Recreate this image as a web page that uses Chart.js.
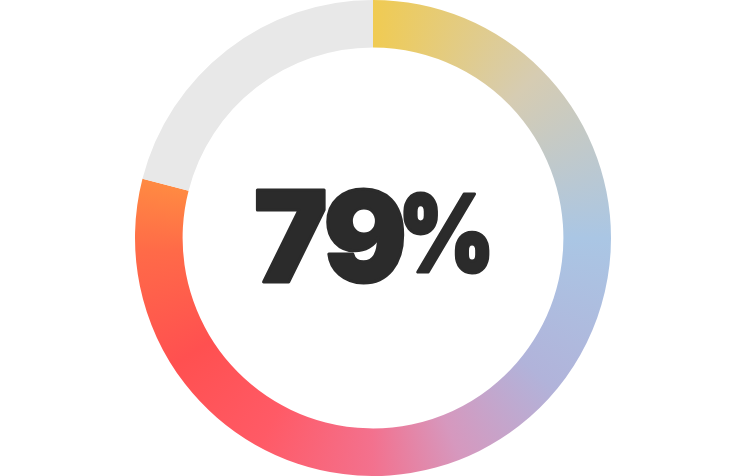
<!DOCTYPE html>
<html lang="en">
  <head>
    <meta charset="UTF-8" />
    <title>Progress Doughnut</title>
    <script src="https://cdn.jsdelivr.net/npm/chart.js"></script>
    <style>
      html, body { margin: 0; padding: 0; background: #ffffff; }
      #wrap { width: 750px; height: 476px; position: relative; }
    </style>
  </head>
  <body>
    <div id="wrap"><canvas id="progressChart"></canvas></div>
    <script>
      // data
      const labels = ["Complete", "Remaining"];
      const values = [79, 21];
      const centerNumber = "79";
      const centerUnit = "%";

      // gradient stops along the filled arc (fraction of full circle, colour)
      const gradientStops = [
        [0.0, "#f0cb52"],
        [0.125, "#d6ccb2"],
        [0.25, "#aac6e4"],
        [0.36, "#b1b3da"],
        [0.44, "#d698be"],
        [0.5, "#f3718e"],
        [0.58, "#ff5a66"],
        [0.66, "#ff5050"],
        [0.74, "#ff6a48"],
        [0.79, "#ff8a42"],
        [1.0, "#ff8a42"],
      ];

      function arcFill(context) {
        const chart = context.chart;
        if (context.dataIndex === 1) return "#e8e8e8";
        const area = chart.chartArea;
        if (!area) return "#f0cb52";
        const cx = (area.left + area.right) / 2;
        const cy = (area.top + area.bottom) / 2;
        const g = chart.ctx.createConicGradient(-Math.PI / 2, cx, cy);
        gradientStops.forEach(([p, c]) => g.addColorStop(p, c));
        return g;
      }

      // draws "79" large and "%" slightly smaller, tightly packed
      const centerText = {
        id: "centerText",
        afterDraw(chart) {
          const { ctx, chartArea } = chart;
          const cx = (chartArea.left + chartArea.right) / 2;
          const cy = (chartArea.top + chartArea.bottom) / 2;
          const left = cx - 116;
          ctx.save();
          ctx.fillStyle = "#2b2b2b";
          ctx.strokeStyle = "#2b2b2b";
          ctx.lineJoin = "round";
          ctx.lineWidth = 3;
          ctx.textAlign = "left";
          ctx.textBaseline = "alphabetic";

          ctx.font = "900 126px Inter, 'Noto Sans', sans-serif";
          ctx.letterSpacing = "-3px";
          const m1 = ctx.measureText(centerNumber);
          const w1 = m1.actualBoundingBoxRight + m1.actualBoundingBoxLeft;
          const s1 = 146 / w1;
          ctx.save();
          ctx.translate(left, cy + 44);
          ctx.scale(s1, 1);
          ctx.fillText(centerNumber, m1.actualBoundingBoxLeft, 0);
          ctx.strokeText(centerNumber, m1.actualBoundingBoxLeft, 0);
          ctx.restore();

          ctx.font = "900 107px Inter, 'Noto Sans', sans-serif";
          ctx.letterSpacing = "0px";
          const m2 = ctx.measureText(centerUnit);
          const w2 = m2.actualBoundingBoxRight + m2.actualBoundingBoxLeft;
          const s2 = 84 / w2;
          ctx.save();
          ctx.translate(left + 147, cy + 34);
          ctx.scale(s2, 1);
          ctx.fillText(centerUnit, m2.actualBoundingBoxLeft, 0);
          ctx.strokeText(centerUnit, m2.actualBoundingBoxLeft, 0);
          ctx.restore();

          ctx.restore();
        },
      };

      new Chart(document.getElementById("progressChart"), {
        type: "doughnut",
        data: {
          labels: labels,
          datasets: [
            {
              data: values,
              backgroundColor: arcFill,
              borderWidth: 0,
              hoverOffset: 0,
            },
          ],
        },
        options: {
          responsive: true,
          maintainAspectRatio: false,
          animation: false,
          cutout: "80%",
          layout: { padding: { right: 4 } },
          plugins: {
            legend: { display: false },
            tooltip: { enabled: false },
          },
        },
        plugins: [centerText],
      });
    </script>
  </body>
</html>
